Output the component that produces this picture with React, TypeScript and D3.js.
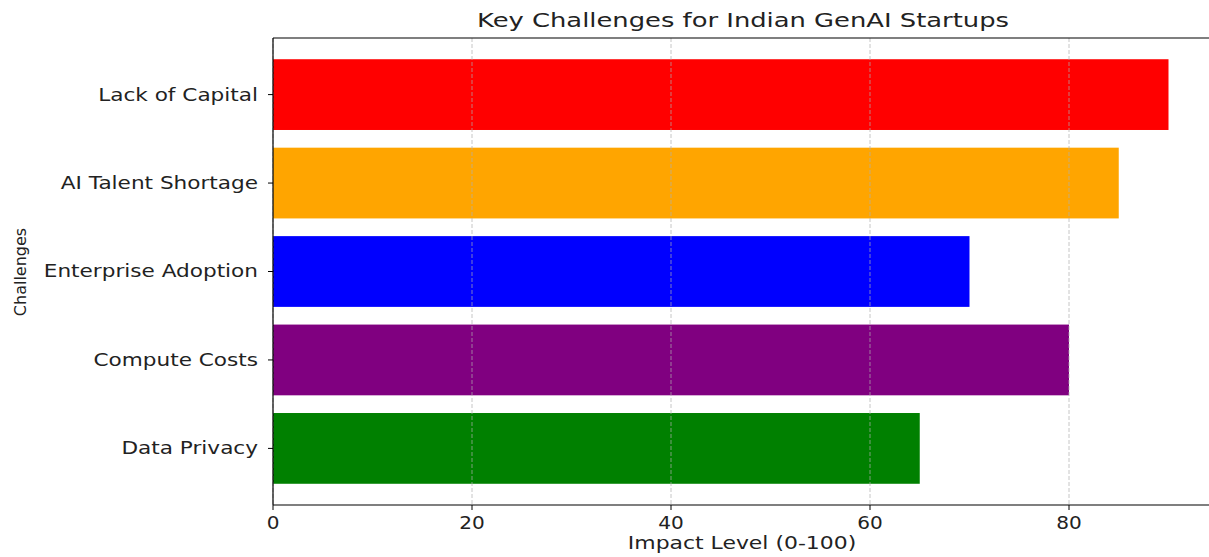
import * as d3 from "d3";
import React, { useEffect, useRef } from "react";

const categories = ["Lack of Capital", "AI Talent Shortage", "Enterprise Adoption", "Compute Costs", "Data Privacy"];
const impact = [90, 85, 70, 80, 65];
const barColors = ["red", "orange", "blue", "purple", "green"];
const xTicks = [0, 20, 40, 60, 80];

const W = 1209;
const H = 557;
const margin = { top: 38, left: 273, bottom: 505 };
// the reference picture is stretched sideways, so text gets widened too
const SX = 1.29;

const App = () => {
  const ref = useRef<SVGSVGElement>(null);

  useEffect(() => {
    const svg = d3.select(ref.current);
    svg.selectAll("*").remove();

    const x = d3.scaleLinear().domain([0, 94.5]).range([margin.left, margin.left + 94.5 * 9.95]);
    // first category sits at the top
    const n = categories.length;
    const y = d3.scaleLinear().domain([-0.64, n - 1 + 0.64]).range([margin.bottom, margin.top]);
    const pos = (i: number) => n - 1 - i;
    const bh = y(0) - y(0.8);

    const font = "DejaVu Sans, sans-serif";

    svg
      .selectAll("rect.bar")
      .data(impact)
      .enter()
      .append("rect")
      .attr("class", "bar")
      .attr("x", x(0))
      .attr("y", (d, i) => y(pos(i) + 0.4))
      .attr("width", (d) => x(d) - x(0))
      .attr("height", bh)
      .attr("fill", (d, i) => barColors[i]);

    // grid drawn over the bars
    svg
      .selectAll("line.grid")
      .data(xTicks)
      .enter()
      .append("line")
      .attr("x1", (d) => x(d))
      .attr("x2", (d) => x(d))
      .attr("y1", margin.top)
      .attr("y2", margin.bottom)
      .attr("stroke", "#b0b0b0")
      .attr("stroke-width", 1)
      .attr("stroke-dasharray", "4,2")
      .attr("opacity", 0.7);

    svg.append("line").attr("x1", x(0)).attr("x2", W).attr("y1", margin.top).attr("y2", margin.top).attr("stroke", "black").attr("stroke-width", 1.2);
    svg.append("line").attr("x1", x(0)).attr("x2", W).attr("y1", margin.bottom).attr("y2", margin.bottom).attr("stroke", "black").attr("stroke-width", 1.2);
    svg.append("line").attr("x1", x(0)).attr("x2", x(0)).attr("y1", margin.top).attr("y2", margin.bottom).attr("stroke", "black").attr("stroke-width", 1.2);

    const xt = svg.selectAll("g.xt").data(xTicks).enter().append("g").attr("transform", (d) => `translate(${x(d)},${margin.bottom})`);
    xt.append("line").attr("y2", 5).attr("stroke", "black");
    xt.append("text")
      .attr("transform", `translate(0,24) scale(1.18,1)`)
      .attr("text-anchor", "middle")
      .attr("font-family", font)
      .attr("font-size", 17)
      .attr("fill", "#222")
      .text((d) => d);

    const yt = svg.selectAll("g.yt").data(categories).enter().append("g").attr("transform", (d, i) => `translate(${x(0)},${y(pos(i))})`);
    yt.append("line").attr("x2", -5).attr("stroke", "black");
    yt.append("text")
      .attr("transform", `translate(-15,0) scale(1.27,1)`)
      .attr("dy", "0.35em")
      .attr("text-anchor", "end")
      .attr("font-family", font)
      .attr("font-size", 17)
      .attr("fill", "#222")
      .text((d) => d);

    svg.append("text")
      .attr("transform", `translate(743,27) scale(${SX},1)`)
      .attr("text-anchor", "middle")
      .attr("font-family", font)
      .attr("font-size", 20)
      .attr("fill", "#222")
      .text("Key Challenges for Indian GenAI Startups");

    svg.append("text")
      .attr("transform", `translate(742,549) scale(${SX},1)`)
      .attr("text-anchor", "middle")
      .attr("font-family", font)
      .attr("font-size", 17)
      .attr("fill", "#222")
      .text("Impact Level (0-100)");

    svg.append("text")
      .attr("transform", `translate(26,272) rotate(-90)`)
      .attr("text-anchor", "middle")
      .attr("font-family", font)
      .attr("font-size", 16)
      .attr("fill", "#222")
      .text("Challenges");
  }, []);

  return <svg ref={ref} width={W} height={H} style={{ position: "absolute", left: 0, top: 0, background: "white" }} />;
};

export default App;
